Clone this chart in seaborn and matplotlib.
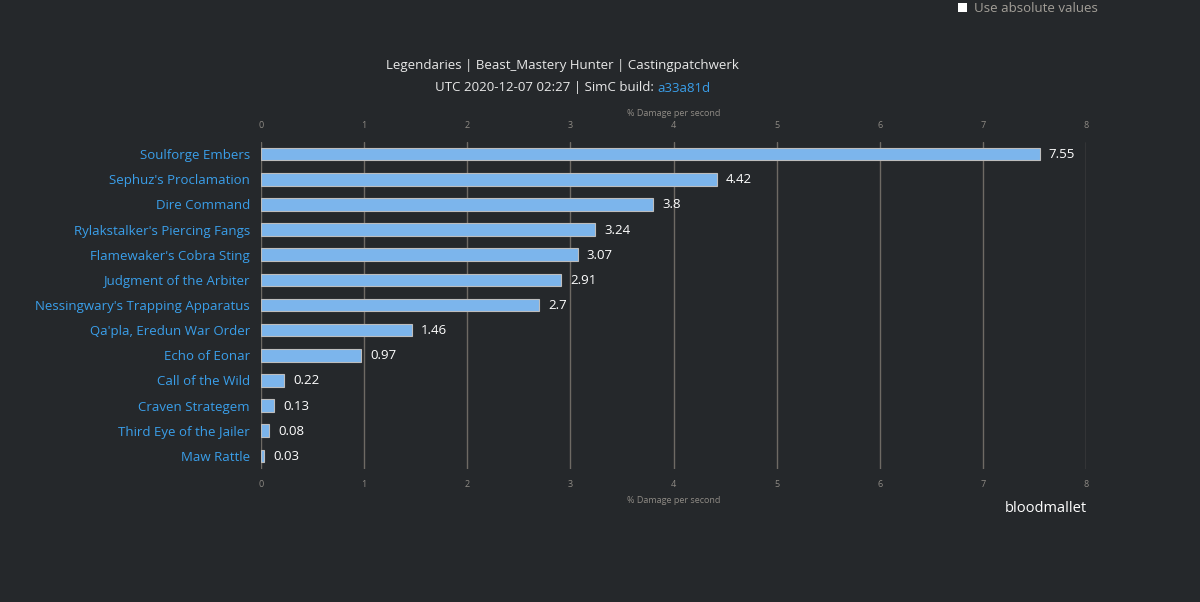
import matplotlib
matplotlib.use("Agg")
import matplotlib.pyplot as plt
import seaborn as sns
import pandas as pd

categories = ["Soulforge Embers", "Sephuz's Proclamation", "Dire Command",
              "Rylakstalker's Piercing Fangs", "Flamewaker's Cobra Sting",
              "Judgment of the Arbiter", "Nessingwary's Trapping Apparatus",
              "Qa'pla, Eredun War Order", "Echo of Eonar", "Call of the Wild",
              "Craven Strategem", "Third Eye of the Jailer", "Maw Rattle"]
values = [7.55, 4.42, 3.8, 3.24, 3.07, 2.91, 2.7, 1.46, 0.97, 0.22, 0.13, 0.08, 0.03]
value_labels = ["7.55", "4.42", "3.8", "3.24", "3.07", "2.91", "2.7", "1.46",
                "0.97", "0.22", "0.13", "0.08", "0.03"]
x_ticks = [0, 1, 2, 3, 4, 5, 6, 7, 8]

BG = "#25282b"
sns.set_theme(style="dark")
plt.rcParams['font.family'] = ['Open Sans', 'DejaVu Sans']

df = pd.DataFrame({"name": categories, "value": values})

fig = plt.figure(figsize=(12, 6.02), dpi=100, facecolor=BG)
ax = fig.add_axes([261/1200, 1-468.5/602, (1086-261)/1200, 327/602])
ax.set_facecolor(BG)

sns.barplot(data=df, x="value", y="name", orient="h", ax=ax, color="#7cb5ec",
            saturation=1, width=0.5, edgecolor="#bdbdbd", linewidth=0.8, zorder=3)

ax.set_xlim(0, 8)
ax.set_xticks(x_ticks)
ax.grid(axis="x", color="#6e6a64", linewidth=1, zorder=0)
ax.grid(axis="y", visible=False)
for s in ax.spines.values():
    s.set_visible(False)

ax.tick_params(axis="x", colors="#8f8b85", labelsize=6.5, length=0,
               top=True, labeltop=True, bottom=True, labelbottom=True, pad=8)
ax.tick_params(axis="y", length=0, labelsize=9.5, labelcolor="#3a9fea", pad=8)
ax.set_ylabel("")
ax.set_xlabel("% Damage per second", color="#8f8b85", fontsize=6.5, labelpad=5)
fig.text(673.5/1200, 1-114/602, "% Damage per second", color="#8f8b85",
         fontsize=6.5, ha="center", va="center")

for i, (v, t) in enumerate(zip(values, value_labels)):
    ax.text(v + 0.09, i + 0.02, t, color="white", fontsize=9.5, va="center", ha="left", zorder=4)

fig.text(562/1200, 1-66/602, "Legendaries | Beast_Mastery Hunter | Castingpatchwerk",
         color="#e8e8e8", fontsize=9.5, ha="center", va="center")
fig.text(657/1200, 1-88/602, "UTC 2020-12-07 02:27 | SimC build: ",
         color="#e8e8e8", fontsize=9.5, ha="right", va="center")
fig.text(657/1200, 1-88/602, "a33a81d", color="#3a9fea", fontsize=9.5, ha="left", va="center")

fig.text(1087/1200, 1-508/602, "bloodmallet", color="white", fontsize=10.5, ha="right", va="center")

fig.text(974/1200, 1-8/602, "Use absolute values", color="#a39f98", fontsize=9.5,
         ha="left", va="center")
fig.patches.append(plt.Rectangle((958/1200, 1-12/602), 9/1200, 9/602,
                                 transform=fig.transFigure, facecolor="white",
                                 edgecolor="none"))

fig.savefig("out.png", dpi=100, facecolor=BG)
